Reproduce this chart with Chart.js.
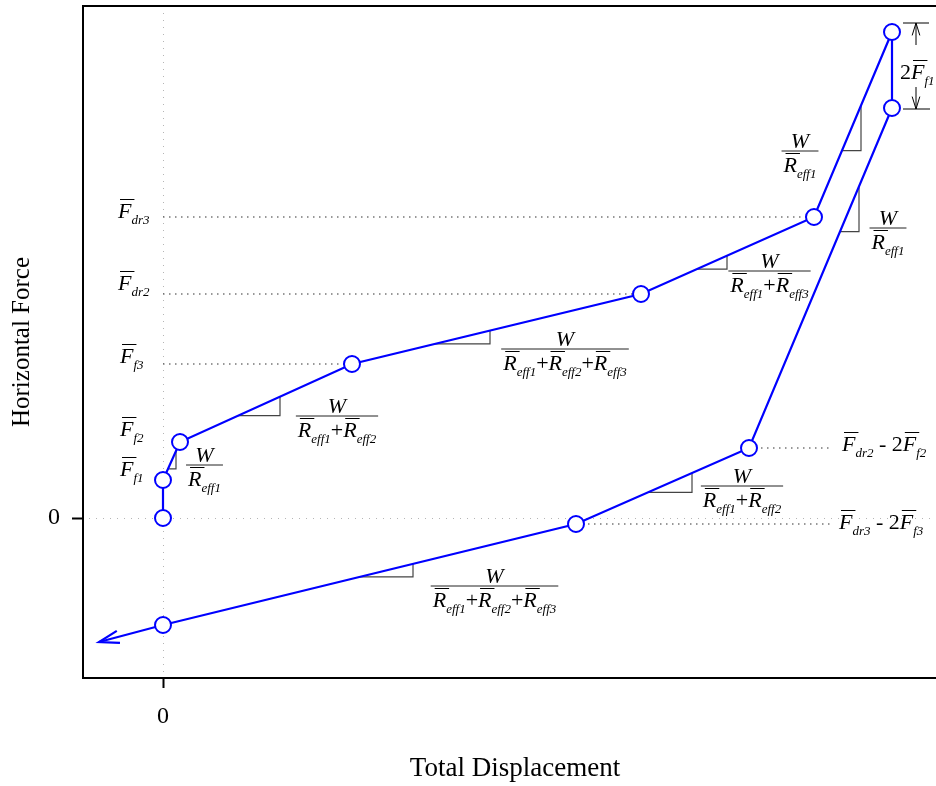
<!DOCTYPE html>
<html>
<head>
<meta charset="utf-8">
<script src="https://cdn.jsdelivr.net/npm/chart.js@4.4.0/dist/chart.umd.min.js"></script>
<style>
html, body { margin: 0; padding: 0; overflow: hidden; background: #fff; }
#wrap { width: 948px; height: 786px; }
</style>
</head>
<body>
<div id="wrap"><canvas id="myChart" width="948" height="786"></canvas></div>
<script>
// loop path (arbitrary units): O, Ff1, Ff2, Ff3, Fdr2, Fdr3, peak, peak-2Ff1, Fdr2-2Ff2, Fdr3-2Ff3, intercept, arrow end
const displacement = [0, 0, 1.7, 18.9, 47.8, 65.1, 72.9, 72.9, 58.6, 41.3, 0, -6.4];
const force = [0, 3.8, 7.6, 15.4, 22.4, 30.1, 48.6, 41.0, 7.0, -0.6, -10.7, -12.4];

// dotted reference levels
const levelFrom = [0, 0, 0, 58.6, 41.3];
const levelTo = [65.1, 47.8, 18.9, 67.0, 67.0];
const levelForce = [30.1, 22.4, 15.4, 7.0, -0.6];

const xTicks = [0];
const yTicks = [0];

const serif = '"Liberation Serif", "Times New Roman", serif';
const MAIN = 22, SUB = 13;

// math text pieces
const F = s => [{t: 'F', it: 1, bar: 1}, {t: s, it: 1, sub: 1}];
const R = s => [{t: 'R', it: 1, bar: 1}, {t: s, it: 1, sub: 1}];
const T = s => [{t: s}];
const plus = T('+');

const leftLabels = [
  {x: -4.5, y: 30.1, dy: 1, parts: F('dr3')},
  {x: -4.5, y: 22.4, dy: -4, parts: F('dr2')},
  {x: -4.3, y: 15.4, dy: -1, parts: F('f3')},
  {x: -4.3, y: 7.6, dy: -6, parts: F('f2')},
  {x: -4.3, y: 3.8, dy: -4, parts: F('f1')},
  {x: 67.9, y: 7.0, dy: 3, parts: [...F('dr2'), ...T(' - 2'), ...F('f2')]},
  {x: 67.6, y: -0.6, dy: 5, parts: [...F('dr3'), ...T(' - 2'), ...F('f3')]},
  {x: 73.7, y: 43.9, dy: 0, parts: [...T('2'), ...F('f1')]}
];

const fractions = [
  {x: 4.15, y: 5.3, den: R('eff1')},
  {x: 17.4, y: 10.2, den: [...R('eff1'), ...plus, ...R('eff2')]},
  {x: 40.2, y: 16.9, den: [...R('eff1'), ...plus, ...R('eff2'), ...plus, ...R('eff3')]},
  {x: 60.65, y: 24.7, den: [...R('eff1'), ...plus, ...R('eff3')]},
  {x: 63.7, y: 36.7, den: R('eff1')},
  {x: 72.5, y: 29.0, den: R('eff1')},
  {x: 57.9, y: 3.2, den: [...R('eff1'), ...plus, ...R('eff2')]},
  {x: 33.15, y: -6.8, den: [...R('eff1'), ...plus, ...R('eff2'), ...plus, ...R('eff3')]}
];

// slope triangles: segment index, horizontal leg start / end (x units)
const slopeMarks = [
  {seg: 1, x1: 0.5, x2: 1.3},
  {seg: 2, x1: 7.5, x2: 11.7},
  {seg: 3, x1: 27.2, x2: 32.7},
  {seg: 4, x1: 53.4, x2: 56.4},
  {seg: 5, x1: 67.9, x2: 69.8},
  {seg: 7, x1: 67.7, x2: 69.6},
  {seg: 8, x1: 48.5, x2: 52.9},
  {seg: 9, x1: 19.7, x2: 25.0}
];

function fontFor(p) {
  return (p.it ? 'italic ' : '') + (p.sub ? SUB : MAIN) + 'px ' + serif;
}
function mathWidth(ctx, parts) {
  let w = 0;
  parts.forEach(p => { ctx.font = fontFor(p); w += ctx.measureText(p.t).width; });
  return w;
}
function drawMath(ctx, parts, x, base, align) {
  const w = mathWidth(ctx, parts);
  let cx = align === 'center' ? x - w / 2 : x;
  ctx.textAlign = 'left';
  ctx.textBaseline = 'alphabetic';
  ctx.fillStyle = '#000';
  ctx.strokeStyle = '#000';
  ctx.lineWidth = 1;
  parts.forEach(p => {
    ctx.font = fontFor(p);
    const pw = ctx.measureText(p.t).width;
    ctx.fillText(p.t, cx, base + (p.sub ? 6 : 0));
    if (p.bar) {
      ctx.beginPath();
      ctx.moveTo(cx + 2, base - 18.5);
      ctx.lineTo(cx + pw + 3, base - 18.5);
      ctx.stroke();
    }
    cx += pw;
  });
}
function drawFrac(ctx, cx, barY, den) {
  const w = mathWidth(ctx, den) + 4;
  ctx.strokeStyle = '#222';
  ctx.lineWidth = 1;
  ctx.beginPath();
  ctx.moveTo(cx - w / 2, barY);
  ctx.lineTo(cx + w / 2, barY);
  ctx.stroke();
  drawMath(ctx, [{t: 'W', it: 1}], cx, barY - 3, 'center');
  drawMath(ctx, den, cx, barY + 21, 'center');
}
function openArrow(ctx, tipX, tipY, fromX, fromY, len, ang) {
  const a = Math.atan2(fromY - tipY, fromX - tipX);
  ctx.beginPath();
  ctx.moveTo(tipX + len * Math.cos(a + ang), tipY + len * Math.sin(a + ang));
  ctx.lineTo(tipX, tipY);
  ctx.lineTo(tipX + len * Math.cos(a - ang), tipY + len * Math.sin(a - ang));
  ctx.stroke();
}

const annotate = {
  id: 'annotate',
  beforeDatasetsDraw(chart) {
    const {ctx, scales: {x, y}} = chart;
    ctx.save();
    ctx.strokeStyle = '#444';
    ctx.lineWidth = 1.2;
    slopeMarks.forEach(m => {
      const i = m.seg;
      const yAt = v => force[i] + (v - displacement[i]) / (displacement[i + 1] - displacement[i]) * (force[i + 1] - force[i]);
      const ya = y.getPixelForValue(yAt(m.x1));
      const yb = y.getPixelForValue(yAt(m.x2));
      const xa = x.getPixelForValue(m.x1);
      const xb = x.getPixelForValue(m.x2);
      ctx.beginPath();
      ctx.moveTo(xa, ya);
      ctx.lineTo(xb, ya);
      ctx.lineTo(xb, yb);
      ctx.stroke();
    });
    ctx.restore();
  },
  afterDatasetsDraw(chart) {
    const {ctx, scales: {x, y}} = chart;
    ctx.save();
    // arrow head at the end of the loop path
    const pts = chart.getDatasetMeta(0).data;
    const tip = pts[pts.length - 1], prev = pts[pts.length - 2];
    ctx.strokeStyle = '#0000ff';
    ctx.lineWidth = 2.2;
    openArrow(ctx, tip.x, tip.y, prev.x, prev.y, 21, 0.3);

    // 2Ff1 dimension
    const px = x.getPixelForValue(displacement[6]);
    const yTop = y.getPixelForValue(force[6]) - 9;
    const yBot = y.getPixelForValue(force[7]) + 1;
    ctx.strokeStyle = '#000';
    ctx.lineWidth = 1;
    ctx.beginPath();
    ctx.moveTo(px + 11, yTop); ctx.lineTo(px + 37, yTop);
    ctx.moveTo(px + 11, yBot); ctx.lineTo(px + 38, yBot);
    ctx.moveTo(px + 24, yTop); ctx.lineTo(px + 24, yTop + 22);
    ctx.moveTo(px + 24, yBot); ctx.lineTo(px + 24, yBot - 22);
    ctx.stroke();
    openArrow(ctx, px + 24, yTop, px + 24, yTop + 20, 13, 0.3);
    openArrow(ctx, px + 24, yBot, px + 24, yBot - 20, 13, 0.3);

    leftLabels.forEach(l => {
      drawMath(ctx, l.parts, x.getPixelForValue(l.x), y.getPixelForValue(l.y) + l.dy, 'left');
    });
    fractions.forEach(f => {
      drawFrac(ctx, x.getPixelForValue(f.x), y.getPixelForValue(f.y), f.den);
    });
    ctx.restore();
  },
  afterDraw(chart) {
    const {ctx, chartArea: a} = chart;
    ctx.save();
    ctx.strokeStyle = '#000';
    ctx.lineWidth = 2;
    ctx.beginPath();
    ctx.moveTo(a.right, a.top);
    ctx.lineTo(a.left + 1, a.top);
    ctx.lineTo(a.left + 1, a.bottom);
    ctx.lineTo(a.right, a.bottom);
    ctx.stroke();
    ctx.restore();
  }
};

const loopData = displacement.map((v, i) => ({x: v, y: force[i]}));
const refSets = levelForce.map((f, i) => ({
  data: [{x: levelFrom[i], y: f}, {x: levelTo[i], y: f}],
  showLine: true,
  borderColor: '#333',
  borderWidth: 1.2,
  borderDash: [1.5, 4.5],
  pointRadius: 0,
  order: 1
}));

const noPad = s => { s.paddingTop = 0; s.paddingBottom = 0; s.paddingLeft = 0; s.paddingRight = 0; };

const ctx = document.getElementById('myChart').getContext('2d');
const myChart = new Chart(ctx, {
  type: 'scatter',
  data: {
    datasets: [{
      data: loopData,
      showLine: true,
      borderColor: '#0000ff',
      borderWidth: 2.2,
      pointRadius: displacement.map((v, i) => i === displacement.length - 1 ? 0 : 8),
      pointBackgroundColor: '#fff',
      pointBorderColor: '#0000ff',
      pointBorderWidth: 2,
      order: 0
    }, ...refSets]
  },
  options: {
    responsive: false,
    animation: false,
    layout: {autoPadding: false, padding: {top: 6, right: 0, bottom: 0, left: 0}},
    plugins: {legend: {display: false}, tooltip: {enabled: false}},
    scales: {
      x: {
        type: 'linear',
        min: -8.1,
        max: 78.5,
        afterBuildTicks: s => { s.ticks = xTicks.map(v => ({value: v})); },
        afterFit: s => { s.height = 108; noPad(s); },
        grid: {color: '#b5b5b5', lineWidth: 1, tickLength: 10, tickColor: '#000', tickWidth: 2},
        border: {display: false, dash: [1, 6]},
        ticks: {font: {family: serif, size: 24}, color: '#000', padding: 14, maxRotation: 0},
        title: {display: true, text: 'Total Displacement', color: '#000', font: {family: serif, size: 27}, padding: {top: 0, bottom: 1}}
      },
      y: {
        type: 'linear',
        min: -16,
        max: 51.2,
        afterBuildTicks: s => { s.ticks = yTicks.map(v => ({value: v})); },
        afterFit: s => { s.width = 82; noPad(s); },
        grid: {color: '#b5b5b5', lineWidth: 1, tickLength: 10, tickColor: '#000', tickWidth: 2},
        border: {display: false, dash: [1, 6]},
        ticks: {font: {family: serif, size: 24}, color: '#000', padding: 12},
        title: {display: true, text: 'Horizontal Force', color: '#000', font: {family: serif, size: 25}, padding: {top: 7, bottom: 0}}
      }
    }
  },
  plugins: [annotate]
});
</script>
</body>
</html>
